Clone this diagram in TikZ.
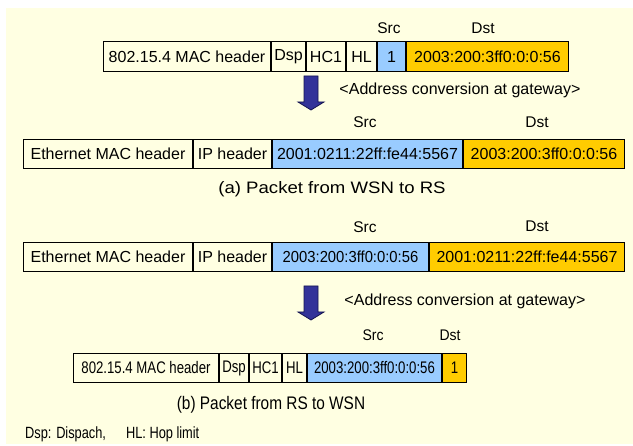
\documentclass[tikz,border=0pt]{standalone}
\usepackage{graphicx}
\usepackage{fontspec}
\setmainfont{Liberation Sans}
\definecolor{paper}{RGB}{255,255,226}
\definecolor{srcblue}{RGB}{153,204,255}
\definecolor{dstgold}{RGB}{255,204,0}
\definecolor{arrowfill}{RGB}{51,51,153}
\definecolor{arrowline}{RGB}{20,20,80}
% text stretched vertically or horizontally
\newcommand{\tallertext}[2]{\scalebox{1}[#1]{#2}}
\newcommand{\widertext}[2]{\scalebox{#1}[1]{#2}}
\tikzset{
  cell/.style={draw=black, line width=1pt, inner sep=0pt, anchor=west,
               minimum height=29.5pt, font=\fontsize{16}{18}\selectfont},
  smallcell/.style={cell, font=\fontsize{13.2}{15}\selectfont},
  srcf/.style={fill=srcblue},
  dstf/.style={fill=dstgold},
  lbl/.style={inner sep=0pt, font=\fontsize{15.5}{17}\selectfont},
  smalllbl/.style={inner sep=0pt, font=\fontsize{14}{16}\selectfont},
  note/.style={inner sep=0pt, font=\fontsize{16}{18}\selectfont},
  caption/.style={inner sep=0pt},
  blockarrow/.style={fill=arrowfill, draw=arrowline, line width=0.8pt, line join=miter}
}
\begin{document}
\begin{tikzpicture}[x=1pt, y=-1pt]
\useasboundingbox (0,0) rectangle (633,446);
\fill[paper] (6,8) rectangle (633,444);

% (a) 802.15.4 frame leaving the sensor network
\node[cell, minimum width=167pt] (a1) at (103,56.5) {802.15.4 MAC header};
\node[cell, minimum width=34pt] (a2) at (a1.east) {Dsp};
\node[cell, minimum width=39pt] (a3) at (a2.east) {HC1};
\node[cell, minimum width=30pt] (a4) at (a3.east) {HL};
\node[cell, srcf, minimum width=28pt] (a5) at (a4.east) {1};
\node[cell, dstf, minimum width=162pt] (a6) at (a5.east) {2003:200:3ff0:0:0:56};
\node[lbl] (a5l) at (389,28) {Src};
\node[lbl] (a6l) at (483,28) {Dst};

\path[blockarrow] (304,76) -- (318,76) -- (318,102) -- (324,102) -- (311,110)
  -- (298,102) -- (304,102) -- cycle;
\node[note] (conva) at (460,90) {<Address conversion at gateway>};

% (a) Ethernet frame after conversion
\node[cell, minimum width=169pt] (b1) at (23,154) {Ethernet MAC header};
\node[cell, minimum width=78pt] (b2) at (b1.east) {IP header};
\node[cell, srcf, minimum width=190pt] (b3) at (b2.east) {2001:0211:22ff:fe44:5567};
\node[cell, dstf, minimum width=161pt] (b4) at (b3.east) {2003:200:3ff0:0:0:56};
\node[lbl] (b3l) at (365,122) {Src};
\node[lbl] (b4l) at (537,122) {Dst};
\node[caption, font=\fontsize{16.6}{19}\selectfont] (capa) at (332,189)
  {\widertext{1.12}{(a) Packet from WSN to RS}};

% (b) Ethernet frame entering the gateway
\node[cell, minimum width=169pt] (c1) at (23,257) {Ethernet MAC header};
\node[cell, minimum width=78pt] (c2) at (c1.east) {IP header};
\node[cell, srcf, minimum width=156pt, font=\fontsize{14.8}{17}\selectfont] (c3) at (c2.east)
  {\tallertext{1.08}{2003:200:3ff0:0:0:56}};
\node[cell, dstf, minimum width=195pt] (c4) at (c3.east) {2001:0211:22ff:fe44:5567};
\node[lbl] (c3l) at (365,227) {Src};
\node[lbl] (c4l) at (537,226) {Dst};

\path[blockarrow] (304,286) -- (318,286) -- (318,312) -- (324,312) -- (311,320)
  -- (298,312) -- (304,312) -- cycle;
\node[note] (convb) at (465,301) {<Address conversion at gateway>};

% (b) 802.15.4 frame delivered to the sensor
\node[smallcell, minimum width=145pt] (d1) at (73,368) {\tallertext{1.27}{802.15.4 MAC header}};
\node[smallcell, minimum width=29pt] (d2) at (d1.east) {\tallertext{1.27}{Dsp}};
\node[smallcell, minimum width=32pt] (d3) at (d2.east) {\tallertext{1.27}{HC1}};
\node[smallcell, minimum width=24pt] (d4) at (d3.east) {\tallertext{1.27}{HL}};
\node[smallcell, srcf, minimum width=134pt] (d5) at (d4.east) {\tallertext{1.27}{2003:200:3ff0:0:0:56}};
\node[smallcell, dstf, minimum width=24pt] (d6) at (d5.east) {\tallertext{1.27}{1}};
\node[smalllbl] (d5l) at (373,335) {\tallertext{1.1}{Src}};
\node[smalllbl] (d6l) at (450,335) {\tallertext{1.1}{Dst}};
\node[caption, font=\fontsize{15.4}{18}\selectfont] (capb) at (271,405)
  {\tallertext{1.18}{(b) Packet from RS to WSN}};

\node[inner sep=0pt, anchor=west, font=\fontsize{12.8}{15}\selectfont] (legend) at (25,434)
  {\tallertext{1.27}{Dsp: Dispach,\hspace{20pt}HL: Hop limit}};
\end{tikzpicture}
\end{document}
